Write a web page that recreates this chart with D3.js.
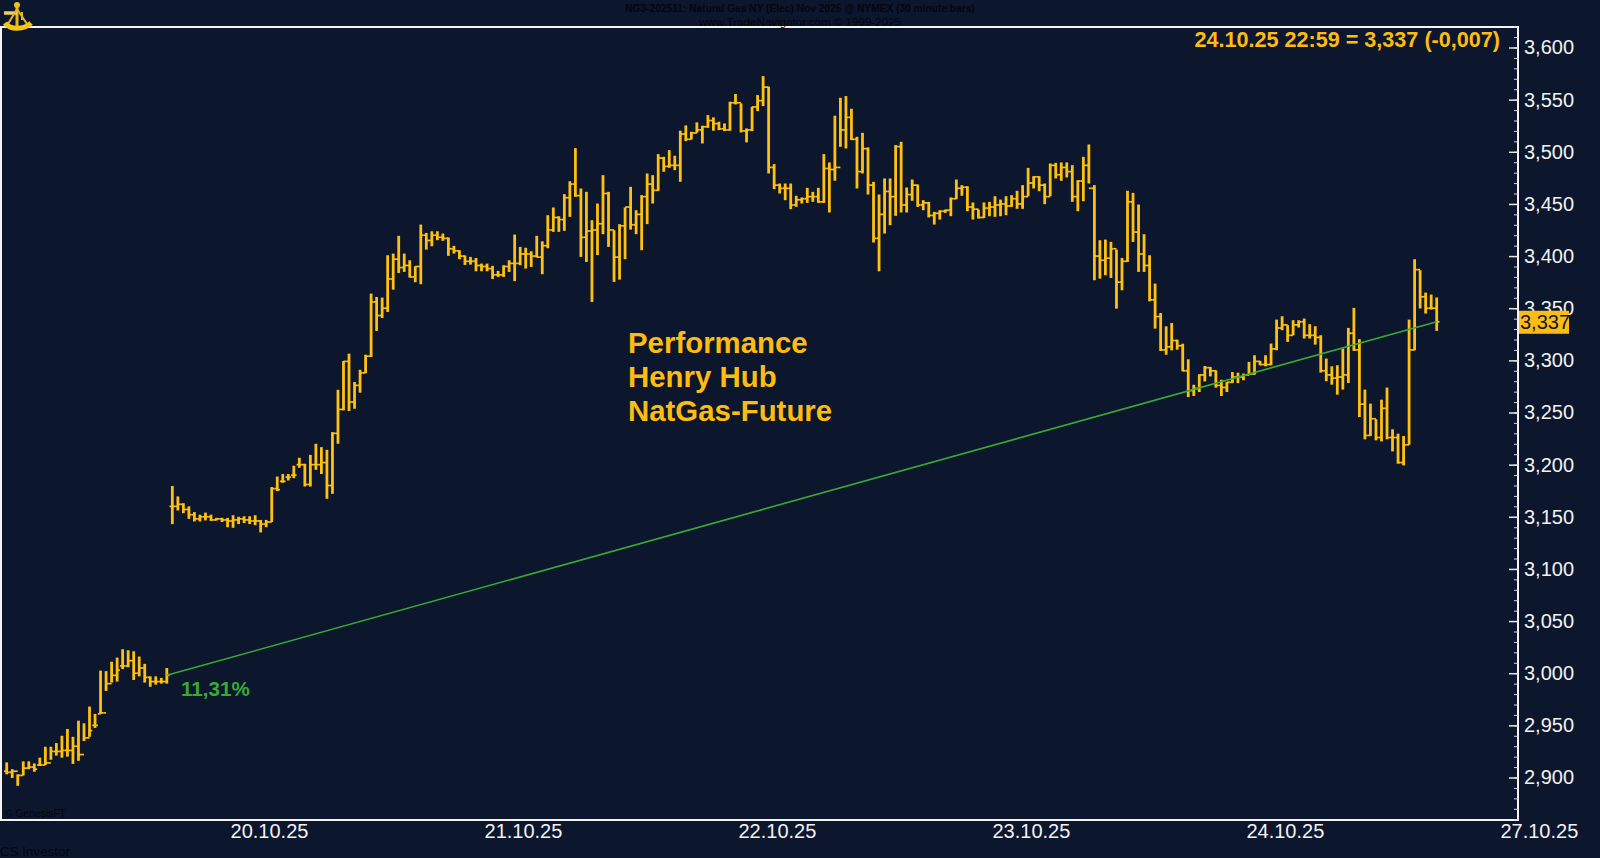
<!DOCTYPE html>
<html>
<head>
<meta charset="utf-8">
<script src="https://d3js.org/d3.v7.min.js"></script>
<style>
  html, body { margin: 0; padding: 0; background: #0c162d; overflow: hidden; }
  svg { display: block; }
  text { font-family: "Liberation Sans", Arial, sans-serif; }
</style>
</head>
<body>
<div id="chart"></div>
<script>
// 30 minute bars, NG3-202511, prices
const highs = [2.9145,2.908,2.903,2.9155,2.9155,2.9135,2.919,2.9295,2.9295,2.933,2.94,2.9465,2.939,2.9545,2.952,2.968,2.961,3.0025,3.002,3.011,3.015,3.023,3.022,3.021,3.016,3.009,2.997,2.997,2.9955,3.005,
3.1795,3.1695,3.163,3.16,3.1545,3.152,3.154,3.152,3.149,3.149,3.149,3.1515,3.15,3.1505,3.1505,3.1515,3.147,3.147,3.1785,3.1886,3.191,3.191,3.199,3.2066,3.2008,3.2094,3.22,3.2168,3.2142,3.2312,
3.2718,3.2994,3.3064,3.2792,3.291,3.3054,3.364,3.3608,3.3602,3.4008,3.4024,3.4194,3.4024,3.396,3.3902,3.4302,3.4222,3.4238,3.4238,3.4216,3.4178,3.4098,3.4056,3.4005,3.3992,3.3982,3.3928,3.3928,3.3906,3.3858,
3.3912,3.396,3.4206,3.4088,3.408,3.4046,3.4194,3.4142,3.4392,3.4466,3.4382,3.4594,3.4718,3.5035,3.4648,3.4616,3.4344,3.4504,3.4776,3.4616,3.4248,3.4306,3.4466,3.4664,3.444,3.4584,3.4792,3.4776,3.4978,3.4952,
3.5016,3.4962,3.5202,3.5253,3.5192,3.5282,3.525,3.5352,3.533,3.5288,3.5272,3.548,3.5554,3.5464,3.5224,3.5432,3.5544,3.5726,3.5624,3.4882,3.4696,3.4696,3.4696,3.4578,3.4562,3.4654,3.4616,3.4654,3.4978,3.4898,
3.5346,3.5518,3.5534,3.5413,3.5144,3.5182,3.5042,3.4712,3.459,3.4744,3.4744,3.5064,3.5096,3.4658,3.4734,3.4686,3.4536,3.452,3.4424,3.444,3.4446,3.4562,3.4734,3.468,3.467,3.4514,3.4446,3.4514,3.452,3.4574,
3.4542,3.4574,3.4584,3.4626,3.468,3.4846,3.4766,3.4766,3.4696,3.4888,3.4894,3.4898,3.4898,3.4872,3.4728,3.4952,3.507,3.468,3.4152,3.4158,3.4136,3.4062,3.3982,3.4626,3.4606,3.4494,3.421,3.4008,3.3736,3.3454,
3.3326,3.3358,3.3198,3.316,3.301,3.2766,3.2866,3.2946,3.2936,3.2904,3.2814,3.2792,3.2888,3.2882,3.2873,3.2985,3.3049,3.2995,3.3049,3.3161,3.3391,3.3423,3.3337,3.3385,3.3385,3.3401,3.3347,3.3327,3.3241,3.3017,
3.2943,3.2953,3.3113,3.3311,3.3503,3.3203,3.272,3.2585,3.2435,3.2623,3.2739,3.2339,3.2297,3.2275,3.3391,3.397,3.3865,3.365,3.3631,3.3603];
const lows = [2.903,2.8995,2.892,2.902,2.908,2.9055,2.911,2.912,2.917,2.921,2.919,2.92,2.913,2.916,2.935,2.939,2.9475,2.961,2.983,2.991,2.992,3.004,3.0057,2.9935,2.997,2.991,2.987,2.989,2.99,2.99,
3.143,3.156,3.1535,3.148,3.1455,3.1455,3.1465,3.146,3.1465,3.145,3.14,3.1395,3.143,3.144,3.143,3.142,3.135,3.14,3.145,3.1746,3.1826,3.1848,3.187,3.197,3.179,3.179,3.195,3.191,3.1672,3.172,
3.22,3.252,3.2514,3.2536,3.269,3.2878,3.3032,3.3282,3.3406,3.3464,3.3678,3.3838,3.3848,3.3794,3.3749,3.373,3.4062,3.4094,3.4152,3.4146,3.4002,3.4024,3.397,3.3915,3.3918,3.3854,3.3854,3.3854,3.378,3.38,
3.38,3.3848,3.376,3.3912,3.388,3.3896,3.3986,3.3826,3.4075,3.4232,3.4232,3.4242,3.4376,3.4568,3.3992,3.3944,3.356,3.401,3.421,3.4088,3.3752,3.3774,3.397,3.4254,3.421,3.4056,3.4306,3.4504,3.4626,3.4808,
3.4846,3.4824,3.4712,3.5102,3.5118,3.5182,3.508,3.523,3.5202,3.5208,3.5198,3.5202,3.5454,3.5186,3.509,3.5198,3.539,3.5438,3.4792,3.4642,3.46,3.4536,3.445,3.4472,3.4504,3.451,3.452,3.451,3.451,3.4418,
3.4722,3.5048,3.5032,3.5112,3.4648,3.4792,3.459,3.413,3.3854,3.4216,3.4296,3.4386,3.4418,3.4418,3.453,3.4472,3.444,3.437,3.4302,3.435,3.4414,3.4382,3.4546,3.4578,3.443,3.435,3.436,3.4366,3.4382,3.4376,
3.4382,3.4392,3.4472,3.4453,3.4453,3.4574,3.4648,3.4622,3.4498,3.4574,3.4744,3.4722,3.4754,3.452,3.443,3.4526,3.4696,3.3768,3.3784,3.3816,3.379,3.3496,3.3672,3.3944,3.4136,3.3848,3.3848,3.3566,3.3304,3.309,
3.3054,3.3096,3.3102,3.2894,3.2648,3.2658,3.2696,3.2798,3.2846,3.2738,3.2658,3.2696,3.2782,3.2782,3.2809,3.2857,3.2863,3.2953,3.2943,3.2953,3.3097,3.3289,3.3177,3.3241,3.3315,3.3209,3.3209,3.3151,3.2883,3.28,
3.2767,3.2671,3.272,3.2783,3.3091,3.2457,3.2243,3.2275,3.2233,3.2223,3.2243,3.2127,3.2009,3.1993,3.2191,3.3097,3.3497,3.3449,3.3487,3.3283];
const opens = [2.906,2.905,2.906,2.902,2.909,2.91,2.912,2.912,2.914,2.925,2.925,2.926,2.926,2.93,2.922,2.938,2.95,2.961,2.962,2.99,2.998,3.007,3.007,3.012,3,3.005,2.996,2.992,2.992,2.992,
3.16,3.16,3.162,3.157,3.152,3.148,3.15,3.15,3.147,3.148,3.147,3.146,3.147,3.148,3.147,3.146,3.146,3.143,3.145,3.177,3.184,3.188,3.19,3.2,3.2,3.181,3.2,3.2,3.202,3.18,
3.23,3.253,3.299,3.26,3.276,3.288,3.304,3.356,3.343,3.35,3.378,3.397,3.389,3.391,3.38,3.39,3.42,3.415,3.42,3.418,3.417,3.407,3.405,3.4,3.395,3.395,3.391,3.39,3.388,3.382,
3.382,3.39,3.393,3.393,3.402,3.402,3.4,3.399,3.41,3.425,3.437,3.435,3.456,3.469,3.458,3.418,3.424,3.425,3.431,3.46,3.425,3.399,3.429,3.447,3.43,3.44,3.457,3.469,3.463,3.494,
3.486,3.487,3.487,3.517,3.512,3.518,3.521,3.524,3.53,3.527,3.522,3.521,3.547,3.547,3.52,3.521,3.543,3.549,3.562,3.485,3.468,3.465,3.465,3.449,3.454,3.455,3.457,3.457,3.452,3.484,
3.483,3.485,3.521,3.533,3.512,3.481,3.503,3.468,3.417,3.44,3.462,3.457,3.505,3.449,3.459,3.468,3.449,3.451,3.439,3.441,3.443,3.444,3.455,3.465,3.466,3.447,3.445,3.437,3.446,3.447,
3.449,3.45,3.448,3.455,3.45,3.457,3.47,3.476,3.468,3.457,3.487,3.478,3.485,3.481,3.457,3.472,3.487,3.465,3.4,3.396,3.398,3.407,3.375,3.395,3.452,3.423,3.402,3.391,3.358,3.342,
3.31,3.313,3.319,3.314,3.29,3.271,3.273,3.286,3.293,3.29,3.276,3.274,3.279,3.284,3.284,3.286,3.287,3.299,3.296,3.296,3.311,3.331,3.334,3.324,3.334,3.337,3.324,3.324,3.322,3.29,
3.286,3.283,3.284,3.286,3.326,3.31,3.258,3.228,3.244,3.226,3.254,3.226,3.226,3.202,3.219,3.31,3.387,3.361,3.35,3.35];
const closes = [2.905,2.906,2.902,2.909,2.91,2.908,2.912,2.914,2.925,2.925,2.926,2.926,2.93,2.922,2.938,2.945,2.95,2.962,2.99,2.998,3.003,3.007,3.012,3,3.005,2.996,2.992,2.992,2.992,2.998,
3.16,3.162,3.157,3.152,3.148,3.15,3.15,3.147,3.148,3.147,3.146,3.147,3.148,3.147,3.146,3.146,3.143,3.145,3.177,3.176,3.184,3.188,3.19,3.2,3.181,3.2,3.2,3.202,3.18,3.23,
3.253,3.299,3.26,3.276,3.288,3.304,3.356,3.343,3.35,3.378,3.397,3.389,3.391,3.38,3.39,3.42,3.415,3.42,3.418,3.417,3.407,3.405,3.4,3.395,3.395,3.391,3.39,3.388,3.382,3.382,
3.39,3.393,3.393,3.402,3.402,3.4,3.399,3.41,3.425,3.437,3.435,3.456,3.469,3.458,3.418,3.424,3.425,3.431,3.46,3.425,3.399,3.429,3.447,3.43,3.44,3.457,3.469,3.463,3.494,3.486,
3.487,3.487,3.517,3.512,3.518,3.521,3.524,3.53,3.527,3.522,3.521,3.547,3.547,3.52,3.521,3.543,3.549,3.562,3.485,3.468,3.465,3.465,3.449,3.454,3.455,3.457,3.457,3.452,3.484,3.483,
3.485,3.521,3.533,3.512,3.481,3.503,3.468,3.417,3.44,3.462,3.457,3.505,3.449,3.459,3.468,3.449,3.451,3.439,3.441,3.443,3.444,3.455,3.465,3.466,3.447,3.445,3.437,3.446,3.447,3.449,
3.45,3.448,3.455,3.45,3.457,3.47,3.476,3.468,3.457,3.487,3.478,3.485,3.481,3.457,3.472,3.487,3.465,3.4,3.396,3.398,3.407,3.375,3.395,3.452,3.423,3.402,3.391,3.358,3.342,3.31,
3.313,3.319,3.314,3.29,3.271,3.273,3.286,3.293,3.29,3.276,3.274,3.279,3.284,3.284,3.286,3.287,3.299,3.296,3.296,3.311,3.331,3.334,3.324,3.334,3.337,3.324,3.324,3.322,3.29,3.286,
3.283,3.284,3.286,3.326,3.31,3.258,3.228,3.244,3.226,3.254,3.226,3.226,3.202,3.219,3.31,3.387,3.361,3.35,3.35,3.337];

const dateTicks = [47.5, 93.5, 139.5, 185.5, 231.5, 277.5]; // bar index where the label sits
const dateLabels = ["20.10.25", "21.10.25", "22.10.25", "23.10.25", "24.10.25", "27.10.25"];
const trendFrom = [29, 2.998], trendTo = [259, 3.337];

const width = 1600, height = 858;
const plot = { left: 1, right: 1518, top: 27, bottom: 820 };
const gold = "#fdbc12", barGold = "#ffc10e", green = "#3aa935", dark = "#04070f";

let svg = d3.select("#chart").append("svg")
    .attr("width", width)
    .attr("height", height);

let x = d3.scaleLinear().domain([0, 259]).range([6.7, 1436.7]);
let y = d3.scaleLinear().domain([2.9, 3.6]).range([777.5, 47.5]);

// frame
svg.append("rect")
    .attr("x", plot.left).attr("y", plot.top)
    .attr("width", plot.right - plot.left).attr("height", plot.bottom - plot.top)
    .attr("fill", "none").attr("stroke", "#f4f4f4").attr("stroke-width", 2);

// price axis: minor ticks every 0,01, major every 0,05
let minor = d3.range(2.86, 3.62, 0.01);
svg.append("g")
    .attr("transform", `translate(${plot.right},0)`)
    .call(d3.axisRight(y).tickValues(minor).tickSize(-4).tickFormat(""))
    .call(g => g.select(".domain").remove())
    .call(g => g.selectAll("line").attr("stroke", "#d8d8d8"));

let major = d3.range(2.9, 3.6001, 0.05);
svg.append("g")
    .attr("transform", `translate(${plot.right},0)`)
    .call(d3.axisRight(y).tickValues(major).tickSize(-9).tickPadding(6)
        .tickFormat(d => d3.format(".3f")(d).replace(".", ",")))
    .call(g => g.select(".domain").remove())
    .call(g => g.selectAll("line").attr("stroke", "#e8e8e8").attr("stroke-width", 1.5))
    .call(g => g.selectAll("text").attr("fill", "#f2f2f2").attr("font-size", 20)
        .attr("font-family", "Liberation Sans"));

// date axis
svg.append("g")
    .attr("transform", `translate(0,${plot.bottom})`)
    .call(d3.axisBottom(x).tickValues(dateTicks).tickSize(0).tickPadding(4)
        .tickFormat((d, i) => dateLabels[i]))
    .call(g => g.select(".domain").remove())
    .call(g => g.selectAll("text").attr("fill", "#f2f2f2").attr("font-size", 20)
        .attr("font-family", "Liberation Sans"));

// bars
let bar = svg.append("g").selectAll("g")
    .data(d3.range(highs.length))
    .join("g")
    .attr("stroke", barGold);

bar.append("line")
    .attr("x1", i => x(i)).attr("x2", i => x(i))
    .attr("y1", i => y(highs[i])).attr("y2", i => y(lows[i]))
    .attr("stroke-width", 2.8);
bar.append("line") // open, left side
    .attr("x1", i => x(i) - 2.8).attr("x2", i => x(i))
    .attr("y1", i => y(opens[i])).attr("y2", i => y(opens[i]))
    .attr("stroke-width", 1.7);
bar.append("line") // close, right side
    .attr("x1", i => x(i)).attr("x2", i => x(i) + 2.8)
    .attr("y1", i => y(closes[i])).attr("y2", i => y(closes[i]))
    .attr("stroke-width", 1.7);

// trend line from the last close before the gap to the last close
svg.append("line")
    .attr("x1", x(trendFrom[0])).attr("y1", y(trendFrom[1]))
    .attr("x2", x(trendTo[0])).attr("y2", y(trendTo[1]))
    .attr("stroke", green).attr("stroke-width", 1.6);

// last price tag
svg.append("rect")
    .attr("x", plot.right + 1).attr("y", y(3.337) - 11)
    .attr("width", 50).attr("height", 23)
    .attr("fill", gold);
svg.append("text")
    .attr("x", plot.right + 2).attr("y", y(3.337) + 7)
    .attr("font-size", 20).attr("fill", "#0c162d")
    .text("3,337");

svg.append("text")
    .attr("x", 1500).attr("y", 47)
    .attr("text-anchor", "end")
    .attr("font-size", 21.6).attr("font-weight", "bold").attr("fill", gold)
    .text("24.10.25 22:59 = 3,337 (-0,007)");

svg.append("text")
    .attr("x", 628).attr("y", 353)
    .attr("font-size", 29.4).attr("font-weight", "bold").attr("fill", gold)
    .selectAll("tspan")
    .data(["Performance", "Henry Hub", "NatGas-Future"])
    .join("tspan")
    .attr("x", 628)
    .attr("dy", (d, i) => i ? 34 : 0)
    .text(d => d);

svg.append("text")
    .attr("x", 181).attr("y", 696)
    .attr("font-size", 20.6).attr("font-weight", "bold").attr("fill", green)
    .text("11,31%");

// header and credits, dark on dark like the original
svg.append("text")
    .attr("x", 800).attr("y", 12)
    .attr("text-anchor", "middle")
    .attr("font-size", 10.2).attr("font-weight", "bold").attr("fill", dark)
    .text("NG3-202511:  Natural Gas NY (Elec) Nov 2025 @ NYMEX  (30 minute bars)");
svg.append("text")
    .attr("x", 800).attr("y", 26)
    .attr("text-anchor", "middle")
    .attr("font-size", 11.6).attr("fill", dark)
    .text("www.TradeNavigator.com © 1999-2025");
svg.append("text")
    .attr("x", 5).attr("y", 817)
    .attr("font-size", 10.3).attr("fill", dark)
    .text("© GenesisFT");
svg.append("text")
    .attr("x", 0).attr("y", 856)
    .attr("font-size", 13.4).attr("font-family", "Liberation Mono").attr("fill", dark)
    .text("CS Investor");

// little sextant logo, top left
let logo = svg.append("g").attr("fill", "none").attr("stroke", "#e8b820");
logo.append("path").attr("d", "M17 3V26").attr("stroke-width", 3);
logo.append("path").attr("d", "M4 13H17").attr("stroke", "#f0d060").attr("stroke-width", 3.5);
logo.append("path").attr("d", "M17 9L8 24M17 9L27 24M22 12V20").attr("stroke-width", 2);
logo.append("path").attr("d", "M5 23C10 30 24 30 31 23").attr("stroke", "#f5c518").attr("stroke-width", 5);
logo.append("circle").attr("cx", 17).attr("cy", 5).attr("r", 3).attr("fill", "#f0c020").attr("stroke", "none");
</script>
</body>
</html>
